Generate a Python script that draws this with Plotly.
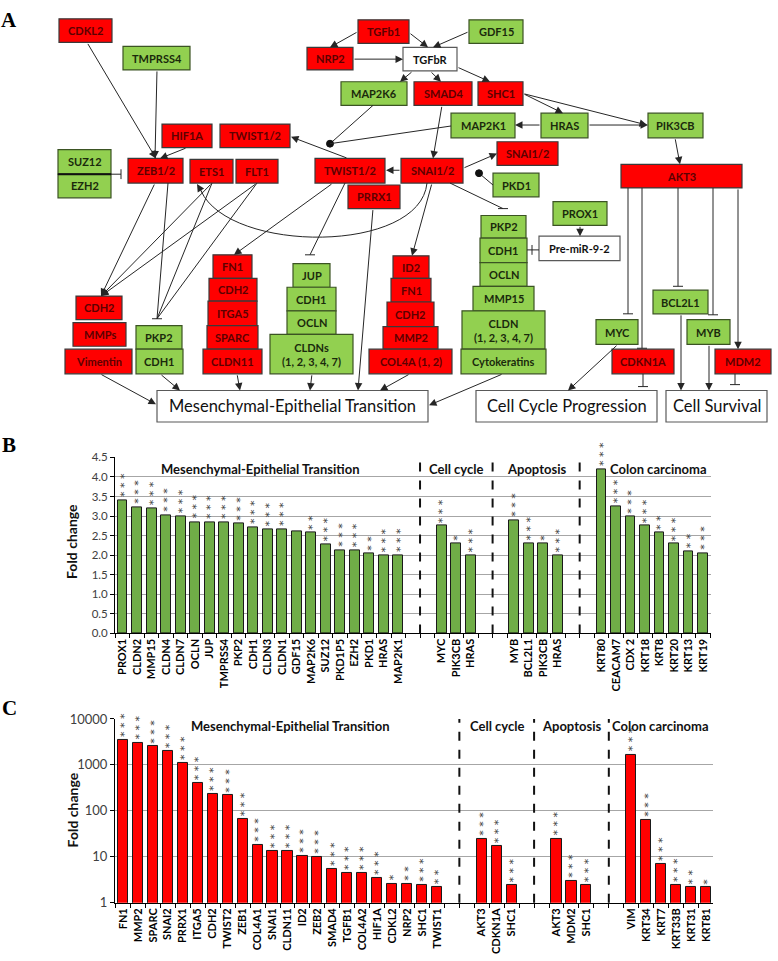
import math
import plotly.graph_objects as go

# ---- panel B : genes up in the green set (fold change) ----
b_genes = ["PROX1", "CLDN2", "MMP15", "CLDN4", "CLDN7", "OCLN", "JUP", "TMPRSS4", "PKP2", "CDH1",
           "CLDN3", "CLDN1", "GDF15", "MAP2K6", "SUZ12", "PKD1P5", "EZH2", "PKD1", "HRAS", "MAP2K1",
           "MYC", "PIK3CB", "HRAS",
           "MYB", "BCL2L1", "PIK3CB", "HRAS",
           "KRT80", "CEACAM7", "CDX 2", "KRT18", "KRT8", "KRT20", "KRT13", "KRT19"]
b_values = [3.41, 3.23, 3.20, 3.02, 3.00, 2.85, 2.85, 2.84, 2.81, 2.71,
            2.66, 2.66, 2.61, 2.57, 2.28, 2.13, 2.13, 2.04, 2.00, 2.00,
            2.75, 2.29, 2.00,
            2.90, 2.31, 2.29, 2.00,
            4.20, 3.26, 2.98, 2.75, 2.58, 2.29, 2.09, 2.05]
b_stars = ["***"] * 12 + ["", "**", "***", "***", "***", "**", "***", "***"] + \
          ["***", "*", "***"] + ["***", "***", "*", "***"] + \
          ["***", "***", "***", "***", "**", "***", "**", "***"]
b_group_sizes = [20, 3, 4, 8]

# ---- panel C : genes up in the red set (fold change, log) ----
c_genes = ["FN1", "MMP2", "SPARC", "SNAI2", "PRRX1", "ITGA5", "CDH2", "TWIST2", "ZEB1", "COL4A1",
           "SNAI1", "CLDN11", "ID2", "ZEB2", "SMAD4", "TGFB1", "COL4A2", "HIF1A", "CDKL2", "NRP2",
           "SHC1", "TWIST1",
           "AKT3", "CDKN1A", "SHC1",
           "AKT3", "MDM2", "SHC1",
           "VIM", "KRT34", "KRT7", "KRT33B", "KRT31", "KRT81"]
c_values = [3430, 3010, 2555, 2030, 1120, 405, 235, 217, 66, 18.4,
            13.2, 13.2, 10.5, 10.0, 5.4, 4.4, 4.4, 3.4, 2.6, 2.6,
            2.4, 2.17,
            25, 17.2, 2.4,
            25, 3.0, 2.4,
            1690, 63, 6.85, 2.4, 2.17, 2.17]
c_stars = ["***"] * 18 + ["*", "**", "***", "**"] + ["***"] * 3 + ["***"] * 3 + \
          ["***", "***", "***", "***", "**", "*"]
c_group_sizes = [22, 3, 3, 6]

groups = ["Mesenchymal-Epithelial Transition", "Cell cycle", "Apoptosis", "Colon carcinoma"]

# ---- panel A : network ----
node_label = {
    "cdkl2": "CDKL2", "tmprss4": "TMPRSS4", "tgfb1": "TGFb1", "gdf15": "GDF15", "nrp2": "NRP2",
    "tgfbr": "TGFbR", "map2k6": "MAP2K6", "smad4": "SMAD4", "shc1": "SHC1", "map2k1": "MAP2K1",
    "hras": "HRAS", "pik3cb": "PIK3CB", "hif1a": "HIF1A", "twist_a": "TWIST1/2", "snai_b": "SNAI1/2",
    "suz12": "SUZ12", "ezh2": "EZH2", "zeb": "ZEB1/2", "ets1": "ETS1", "flt1": "FLT1",
    "twist": "TWIST1/2", "snai": "SNAI1/2", "akt3": "AKT3", "pkd1": "PKD1", "prrx1": "PRRX1",
    "prox1": "PROX1", "pkp2_r": "PKP2", "cdh1_r": "CDH1", "premir": "Pre-miR-9-2", "ocln_r": "OCLN",
    "mmp15": "MMP15", "cldn_r": "CLDN<br>(1, 2, 3, 4, 7)", "cytok": "Cytokeratins",
    "fn1_l": "FN1", "cdh2_m": "CDH2", "itga5": "ITGA5", "sparc": "SPARC", "cldn11": "CLDN11",
    "cdh2_l": "CDH2", "mmps": "MMPs", "vim": "Vimentin", "pkp2_l": "PKP2", "cdh1_l": "CDH1",
    "jup": "JUP", "cdh1_m": "CDH1", "ocln_m": "OCLN", "cldns": "CLDNs<br>(1, 2, 3, 4, 7)",
    "id2": "ID2", "fn1_r": "FN1", "cdh2_r": "CDH2", "mmp2": "MMP2", "col4a": "COL4A (1, 2)",
    "bcl2l1": "BCL2L1", "myc": "MYC", "myb": "MYB", "cdkn1a": "CDKN1A", "mdm2": "MDM2",
    "met": "Mesenchymal-Epithelial Transition", "ccp": "Cell Cycle Progression", "cs": "Cell Survival",
}
up_nodes = ["cdkl2", "tgfb1", "nrp2", "smad4", "shc1", "hif1a", "twist_a", "snai_b", "zeb", "ets1",
            "flt1", "twist", "snai", "akt3", "prrx1", "fn1_l", "cdh2_m", "itga5", "sparc", "cldn11",
            "cdh2_l", "mmps", "vim", "id2", "fn1_r", "cdh2_r", "mmp2", "col4a", "cdkn1a", "mdm2"]
process_nodes = ["met", "ccp", "cs"]
plain_nodes = ["tgfbr", "premir"]

# box geometry on the diagram canvas (pixels, y downwards)
node_box = {
    "cdkl2": (59, 11, 112, 35), "tmprss4": (123, 39, 190, 63), "tgfb1": (358, 12, 409, 36),
    "gdf15": (469, 12, 523, 36), "nrp2": (307, 40, 353, 63), "tgfbr": (403, 40, 457, 64),
    "map2k6": (341, 75, 407, 99), "smad4": (414, 75, 472, 99), "shc1": (478, 75, 523, 99),
    "map2k1": (451, 107, 515, 132), "hras": (541, 107, 588, 132), "pik3cb": (648, 107, 703, 132),
    "hif1a": (162, 118, 212, 142), "twist_a": (220, 118, 290, 142), "snai_b": (497, 136, 558, 160),
    "suz12": (58, 144, 111, 169), "ezh2": (58, 169, 111, 193), "zeb": (128, 153, 183, 178),
    "ets1": (190, 154, 233, 178), "flt1": (236, 154, 278, 178), "twist": (315, 153, 385, 178),
    "snai": (401, 153, 463, 178), "akt3": (621, 159, 742, 183), "pkd1": (493, 168, 539, 192),
    "prrx1": (348, 180, 400, 204), "prox1": (553, 197, 607, 221), "pkp2_r": (481, 211, 526, 234),
    "cdh1_r": (480, 234, 527, 259), "premir": (539, 232, 620, 257), "ocln_r": (480, 259, 527, 283),
    "mmp15": (473, 283, 534, 308), "cldn_r": (462, 308, 545, 347), "cytok": (461, 347, 546, 372),
    "fn1_l": (213, 251, 252, 275), "cdh2_m": (209, 275, 257, 298), "itga5": (208, 298, 257, 323),
    "sparc": (207, 323, 258, 347), "cldn11": (203, 347, 262, 372), "cdh2_l": (76, 293, 122, 317),
    "mmps": (73, 320, 126, 344), "vim": (65, 347, 132, 372), "pkp2_l": (136, 323, 182, 347),
    "cdh1_l": (136, 347, 183, 372), "jup": (293, 260, 330, 284), "cdh1_m": (287, 284, 336, 308),
    "ocln_m": (287, 308, 336, 332), "cldns": (270, 332, 353, 372), "id2": (393, 252, 429, 275),
    "fn1_r": (391, 275, 431, 299), "cdh2_r": (387, 299, 434, 324), "mmp2": (383, 324, 438, 347),
    "col4a": (369, 347, 452, 372), "bcl2l1": (653, 287, 708, 311), "myc": (596, 317, 638, 342),
    "myb": (687, 317, 730, 342), "cdkn1a": (612, 347, 674, 372), "mdm2": (715, 347, 771, 372),
    "met": (157, 389, 428, 421), "ccp": (476, 389, 657, 421), "cs": (666, 389, 767, 421),
}

# edges: tail x, tail y, head x, head y, end style
edges = [
    (87, 35, 156, 153, "arrow"), (157, 63, 155, 153, "arrow"), (187, 142, 160, 153, "arrow"),
    (111, 169, 121, 169, "teev"),
    (358, 24, 330, 40, "arrow"), (409, 25, 428, 40, "arrow"), (469, 24, 433, 40, "arrow"),
    (353, 52, 403, 52, "arrow"), (413, 64, 400, 75, "arrow"), (430, 64, 441, 75, "arrow"),
    (457, 60, 490, 75, "arrow"), (523, 87, 563, 107, "arrow"), (523, 87, 647, 119, "arrow"),
    (541, 119, 515, 119, "arrow"), (588, 119, 648, 119, "arrow"), (675, 132, 680, 159, "arrow"),
    (373, 99, 330, 138, "ball"), (451, 120, 330, 138, "line"),
    (442, 99, 433, 153, "arrow"), (401, 165, 386, 165, "arrow"), (463, 163, 497, 148, "arrow"),
    (493, 180, 479, 168, "ball"), (348, 153, 291, 131, "arrow"),
    (450, 178, 503, 204, "tee"), (432, 178, 412, 252, "arrow"), (333, 178, 234, 251, "arrow"),
    (345, 178, 310, 251, "tee"), (373, 204, 358, 389, "arrow"),
    (155, 178, 101, 293, "arrow"), (168, 178, 157, 316, "tee"),
    (212, 178, 101, 293, "arrow"), (212, 178, 157, 316, "line"),
    (257, 178, 101, 293, "arrow"), (257, 178, 157, 316, "line"),
    (100, 372, 156, 403, "arrow"), (160, 372, 180, 389, "arrow"), (237, 372, 240, 389, "arrow"),
    (312, 372, 310, 389, "arrow"), (410, 372, 380, 389, "arrow"), (503, 372, 429, 404, "arrow"),
    (580, 221, 580, 232, "arrow"), (539, 246, 532, 246, "teev"), (532, 246, 527, 246, "line"),
    (628, 183, 628, 311, "tee"), (642, 183, 642, 346, "tee"), (678, 183, 678, 283, "tee"),
    (713, 183, 713, 312, "tee"), (738, 183, 738, 347, "arrow"),
    (618, 342, 568, 389, "arrow"), (643, 372, 643, 385, "tee"), (681, 311, 681, 389, "arrow"),
    (709, 342, 709, 389, "arrow"), (735, 372, 735, 383, "tee"),
]

W, H = 778, 961
FONT = "Lato"
RED, GREEN = "#ff0000", "#92d050"
LINE = "#262626"


def slots(sizes, gap=2):
    pos, seps, s = [], [], 0
    for i, n in enumerate(sizes):
        pos += list(range(s, s + n))
        s += n
        if i < len(sizes) - 1:
            seps.append(s + 0.5)
            s += gap
    return pos, seps


b_pos, b_seps = slots(b_group_sizes)
c_pos, c_seps = slots(c_group_sizes)

fig = go.Figure()

fig.add_trace(go.Bar(x=b_pos, y=b_values, width=0.68, marker=dict(color="#70ad47", line=dict(color="#1a1a1a", width=1)),
                     hoverinfo="skip", xaxis="x", yaxis="y"))
fig.add_trace(go.Bar(x=c_pos, y=c_values, width=0.68, marker=dict(color=RED, line=dict(color="#1a1a1a", width=1)),
                     hoverinfo="skip", xaxis="x2", yaxis="y2"))

shapes, annotations = [], []

# significance stars, stacked vertically on top of each bar
star_font = dict(family="DejaVu Sans", size=11, color="#404040")
for xs, vals, stars, xr, yr, log in [(b_pos, b_values, b_stars, "x", "y", False),
                                     (c_pos, c_values, c_stars, "x2", "y2", True)]:
    for x, v, s in zip(xs, vals, stars):
        if not s:
            continue
        annotations.append(dict(xref=xr, yref=yr, x=x, y=math.log10(v) if log else v, text=" ".join(s),
                                showarrow=False, textangle=-90, xanchor="center", yanchor="bottom",
                                xshift=1.5, yshift=1, font=star_font))

# ---- diagram ----
for nid, (x0, y0, x1, y1) in node_box.items():
    if nid in up_nodes:
        fill, border, tcol, size, weight = RED, "#3a3a3a", "#5c0000", 11, "bold"
    elif nid in process_nodes:
        fill, border, tcol, size, weight = "white", "#595959", "#111111", 16.5, "normal"
    elif nid in plain_nodes:
        fill, border, tcol, size, weight = "white", "#595959", "#111111", 11, "bold"
    else:
        fill, border, tcol, size, weight = GREEN, "#3b5323", "#1a2a0c", 11, "bold"
    shapes.append(dict(type="rect", xref="x3", yref="y3", x0=x0, y0=y0, x1=x1, y1=y1,
                       fillcolor=fill, line=dict(color=border, width=1.2)))
    annotations.append(dict(xref="x3", yref="y3", x=(x0 + x1) / 2, y=(y0 + y1) / 2, text=node_label[nid],
                            showarrow=False, xanchor="center", yanchor="middle",
                            font=dict(family=FONT, size=size, color=tcol, weight=weight)))

# thick divider between SUZ12 and EZH2
shapes.append(dict(type="line", xref="x3", yref="y3", x0=58, y0=169, x1=111, y1=169,
                   line=dict(color="#111111", width=2)))

for x0, y0, x1, y1, kind in edges:
    if kind == "arrow":
        annotations.append(dict(xref="x3", yref="y3", axref="x3", ayref="y3", x=x1, y=y1, ax=x0, ay=y0,
                                text="", showarrow=True, arrowhead=2, arrowsize=1.5, arrowwidth=1,
                                arrowcolor=LINE, standoff=0))
        continue
    shapes.append(dict(type="line", xref="x3", yref="y3", x0=x0, y0=y0, x1=x1, y1=y1,
                       line=dict(color=LINE, width=1)))
    if kind == "tee":
        shapes.append(dict(type="line", xref="x3", yref="y3", x0=x1 - 5, y0=y1, x1=x1 + 5, y1=y1,
                           line=dict(color=LINE, width=1)))
    elif kind == "teev":
        shapes.append(dict(type="line", xref="x3", yref="y3", x0=x1, y0=y1 - 5, x1=x1, y1=y1 + 5,
                           line=dict(color=LINE, width=1)))
    elif kind == "ball":
        shapes.append(dict(type="circle", xref="x3", yref="y3", x0=x1 - 3.5, y0=y1 - 3.5, x1=x1 + 3.5,
                           y1=y1 + 3.5, fillcolor="#111111", line=dict(color="#111111", width=1)))

# curved SNAI1/2 -> ETS1 link
shapes.append(dict(type="path", xref="x3", yref="y3", path="M 427 178 C 420 250, 230 250, 201 186",
                   line=dict(color=LINE, width=1)))
annotations.append(dict(xref="x3", yref="y3", axref="x3", ayref="y3", x=197, y=179, ax=203, ay=189,
                        text="", showarrow=True, arrowhead=2, arrowsize=1.5, arrowwidth=1, arrowcolor=LINE))

# ---- bar chart decorations ----
for s in b_seps:
    shapes.append(dict(type="line", xref="x", yref="y", x0=s, x1=s, y0=0, y1=4.68,
                       line=dict(color="#111111", width=2, dash="dash")))
for s in c_seps:
    shapes.append(dict(type="line", xref="x2", yref="y2 domain", x0=s, x1=s, y0=0, y1=1,
                       line=dict(color="#111111", width=2, dash="dash")))

b_title_x = [(9.5, "center"), (23, "center"), (28.5, "center"), (33.45, "left")]
c_title_x = [(11.2, "center"), (25, "center"), (30, "center"), (32.6, "left")]
for g, (x, anc) in zip(groups, b_title_x):
    annotations.append(dict(xref="x", yref="y", x=x, y=4.2, text=g, showarrow=False, xanchor=anc,
                            yanchor="middle", font=dict(family=FONT, size=13, color="#111111", weight="bold")))
for g, (x, anc) in zip(groups, c_title_x):
    annotations.append(dict(xref="x2", yref="y2", x=x, y=3.85, text=g, showarrow=False, xanchor=anc,
                            yanchor="middle", font=dict(family=FONT, size=13, color="#111111", weight="bold")))

for txt, yy in [("Fold change", 543), ("Fold change", 816)]:
    annotations.append(dict(xref="paper", yref="paper", x=72 / W, y=1 - yy / H, text=txt, showarrow=False,
                            xanchor="center", yanchor="middle", textangle=-90,
                            font=dict(family=FONT, size=14, color="#111111", weight="bold")))

for txt, xx, yy in [("A", 9, 12), ("B", 9, 444), ("C", 9, 712)]:
    annotations.append(dict(xref="paper", yref="paper", x=xx / W, y=1 - yy / H, text=txt, showarrow=False,
                            xanchor="center", yanchor="middle",
                            font=dict(family="Liberation Serif", size=21, color="black", weight="bold")))

xcommon = dict(showgrid=False, zeroline=False, showline=True, linecolor="black", linewidth=1,
               tickangle=-90, ticks="", tickfont=dict(family=FONT, size=11, color="black", weight="bold"),
               tickmode="array",
               minor=dict(tick0=0.5, dtick=1, ticks="outside", ticklen=4, tickcolor="black", showgrid=False))
ycommon = dict(showline=True, linecolor="black", linewidth=1, ticks="outside", ticklen=4, tickcolor="black",
               gridcolor="#a6a6a6", gridwidth=1, zeroline=False)

fig.update_layout(
    width=W, height=H, margin=dict(l=0, r=0, t=0, b=0),
    paper_bgcolor="white", plot_bgcolor="white", showlegend=False, bargap=0,
    xaxis=dict(xcommon, domain=[115 / W, 711 / W], range=[-0.52, 40.55], tickvals=b_pos, ticktext=b_genes,
               anchor="y"),
    yaxis=dict(ycommon, domain=[1 - 636 / H, 1 - 457 / H], range=[0, 4.5], dtick=0.5, tickformat=".1f",
               tickfont=dict(family=FONT, size=11.5, color="#404040"), anchor="x"),
    xaxis2=dict(xcommon, domain=[115 / W, 713 / W], range=[-0.54, 39.47], tickvals=c_pos, ticktext=c_genes,
                anchor="y2"),
    yaxis2=dict(ycommon, domain=[1 - 910 / H, 1 - 723 / H], type="log", range=[0, 4],
                tickvals=[1, 10, 100, 1000, 10000], ticktext=["1", "10", "100", "1000", "10000"],
                tickfont=dict(family=FONT, size=13, color="#404040"), anchor="x2"),
    xaxis3=dict(domain=[0, 1], range=[0, W], visible=False, anchor="y3"),
    yaxis3=dict(domain=[1 - 440 / H, 1], range=[440, 0], visible=False, anchor="x3"),
    shapes=shapes, annotations=annotations,
)

fig.write_html("out.html", config={"displayModeBar": False},
               post_script="document.body.style.margin='0px';")
